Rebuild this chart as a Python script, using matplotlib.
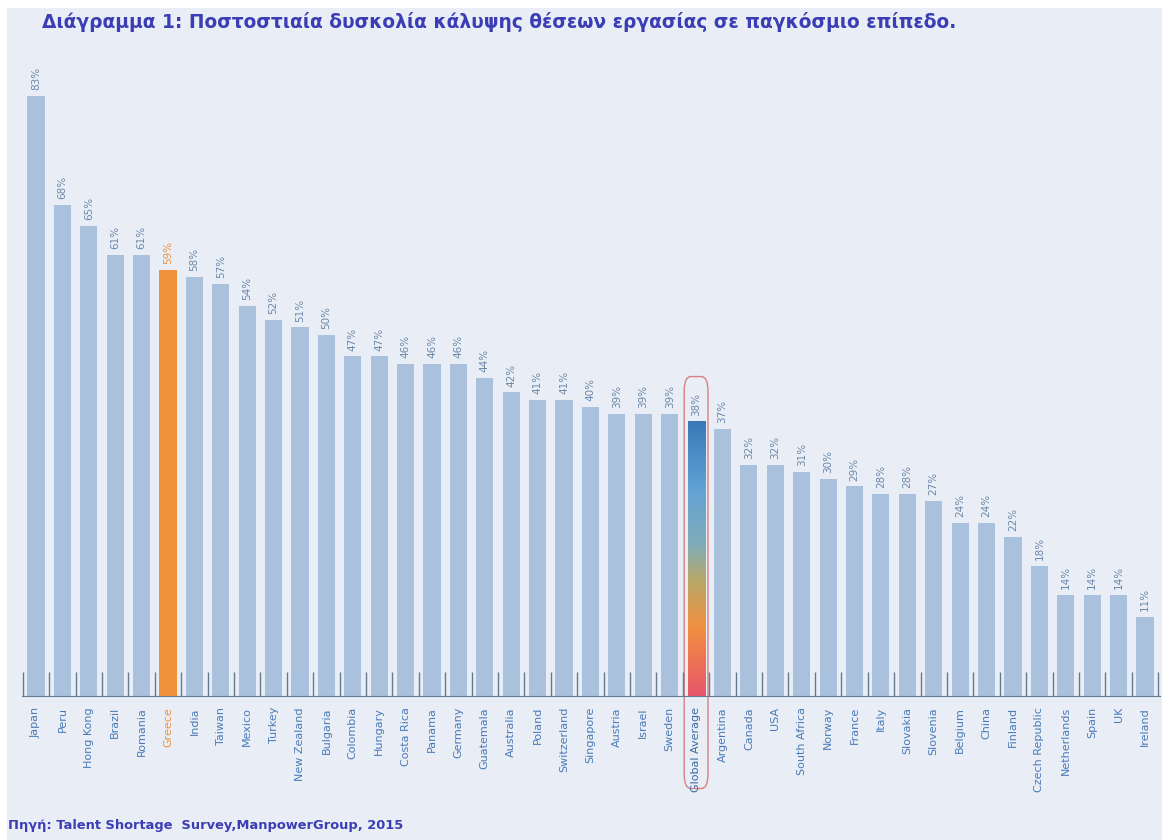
import numpy as np
import matplotlib.pyplot as plt
from matplotlib.patches import Rectangle, FancyBboxPatch
from matplotlib.colors import LinearSegmentedColormap

# data
countries = ["Japan", "Peru", "Hong Kong", "Brazil", "Romania", "Greece", "India",
             "Taiwan", "Mexico", "Turkey", "New Zealand", "Bulgaria", "Colombia",
             "Hungary", "Costa Rica", "Panama", "Germany", "Guatemala", "Australia",
             "Poland", "Switzerland", "Singapore", "Austria", "Israel", "Sweden",
             "Global Average", "Argentina", "Canada", "USA", "South Africa", "Norway",
             "France", "Italy", "Slovakia", "Slovenia", "Belgium", "China", "Finland",
             "Czech Republic", "Netherlands", "Spain", "UK", "Ireland"]
values = [83, 68, 65, 61, 61, 59, 58, 57, 54, 52, 51, 50, 47, 47, 46, 46, 46, 44,
          42, 41, 41, 40, 39, 39, 39, 38, 37, 32, 32, 31, 30, 29, 28, 28, 27, 24,
          24, 22, 18, 14, 14, 14, 11]
title = "Διάγραμμα 1: Ποστοστιαία δυσκολία κάλυψης θέσεων εργασίας σε παγκόσμιο επίπεδο."
source = "Πηγή: Talent Shortage  Survey,ManpowerGroup, 2015"

bg = "#e9eef6"
bar_col = "#a9c1dc"
greece_col = "#f0913c"
lab_col = "#4a7ab6"
pct_col = "#6c88aa"
title_col = "#3a3db4"
narrow = ["Liberation Sans Narrow", "DejaVu Sans"]

fig = plt.figure(figsize=(11.62, 8.4), dpi=100, facecolor="white")
fig.patches.append(Rectangle((0.006, 0), 0.994, 0.991, transform=fig.transFigure,
                             facecolor=bg, edgecolor="none", zorder=-10))
ax = fig.add_axes([22 / 1162, (840 - 696) / 840, (1160 - 22) / 1162, (696 - 60) / 840])
ax.set_facecolor(bg)
ax.patch.set_alpha(0)

x = np.arange(len(countries))
gi = countries.index("Global Average")
colors = [greece_col if c == "Greece" else bar_col for c in countries]
colors[gi] = "none"
ax.bar(x, values, width=0.65, color=colors, zorder=2)

# gradient bar for the global average
grad = LinearSegmentedColormap.from_list(
    "g", [(0, "#e8566a"), (0.25, "#f09040"), (0.42, "#b8a868"), (0.55, "#80acb8"),
          (0.75, "#62a2d4"), (1, "#3a78b8")])
ax.imshow(np.linspace(0, 1, 256).reshape(-1, 1), cmap=grad, origin="lower",
          extent=(gi - 0.325, gi + 0.325, 0, values[gi]), aspect="auto", zorder=2)

for i, (c, v) in enumerate(zip(countries, values)):
    ax.text(i, v + 0.8, f"{v}%", rotation=90, ha="center", va="bottom",
            fontsize=7.5, family=narrow,
            color=greece_col if c == "Greece" else pct_col)

# box around the global average
ax.add_patch(FancyBboxPatch((gi - 0.45, -12.8), 0.9, 57, boxstyle="round,pad=0,rounding_size=0.25",
                            transform=ax.transData, fill=False, edgecolor="#d98080",
                            linewidth=1, clip_on=False, mutation_aspect=8))

ax.set_xlim(-0.53, 42.57)
ax.set_ylim(0, 88)
ax.set_xticks(x)
ax.set_xticklabels(countries, rotation=90, fontsize=8, family=narrow, color=lab_col)
ax.get_xticklabels()[countries.index("Greece")].set_color(greece_col)
ax.get_xticklabels()[gi].set_color("#3a6aa0")
ax.tick_params(axis="x", which="major", length=0, pad=8)
ax.set_xticks(np.arange(-0.5, len(countries)), minor=True)
ax.tick_params(axis="x", which="minor", direction="in", length=17, color="#627a92", width=1)
ax.set_yticks([])
for s in ["top", "right", "left"]:
    ax.spines[s].set_visible(False)
ax.spines["bottom"].set_color("#627a92")

fig.text(42 / 1162, 1 - 22 / 840, title, fontsize=13.4, fontweight="bold",
         color=title_col, va="center", ha="left")
fig.text(8 / 1162, 1 - 826 / 840, source, fontsize=9.4, fontweight="bold",
         color=title_col, va="center", ha="left")

fig.savefig("out.png", dpi=100, facecolor=fig.get_facecolor())
